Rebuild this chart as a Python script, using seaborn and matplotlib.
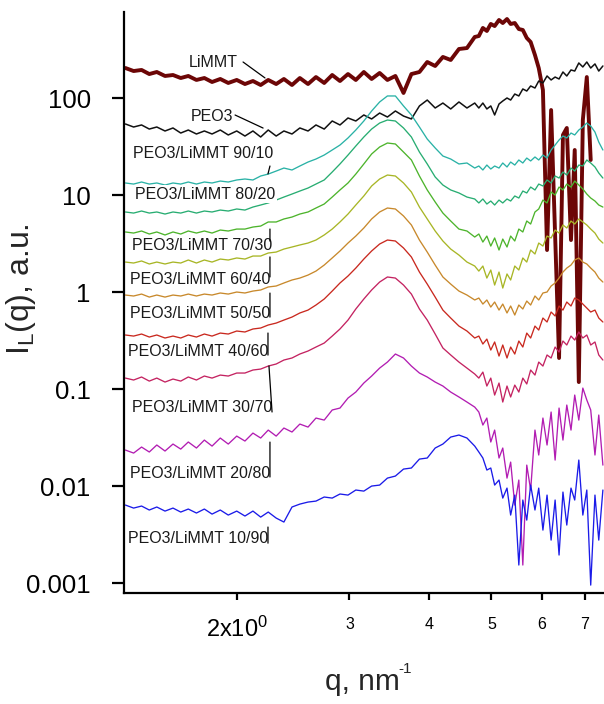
import numpy as np
import pandas as pd
import matplotlib
matplotlib.use("Agg")
import matplotlib.pyplot as plt
from matplotlib.ticker import NullLocator
import seaborn as sns

# ---------------- data ----------------
q = [1.34, 1.38, 1.42, 1.46, 1.50, 1.545, 1.59, 1.635, 1.68, 1.73, 1.78, 1.83, 1.885, 1.94,
     2.00, 2.06, 2.12, 2.18, 2.24, 2.305, 2.37, 2.44, 2.51, 2.585, 2.66, 2.74, 2.82, 2.90,
     2.985, 3.07, 3.16, 3.25, 3.345, 3.44, 3.54, 3.645, 3.75, 3.86, 3.97, 4.085, 4.20, 4.32,
     4.45, 4.58, 4.71,
     4.78, 4.85, 4.92, 4.99, 5.06, 5.14, 5.21, 5.29, 5.36, 5.44, 5.52, 5.60, 5.68, 5.76,
     5.85, 5.93, 6.02, 6.11, 6.20, 6.29, 6.38, 6.47, 6.56, 6.66, 6.75, 6.85, 6.95, 7.05,
     7.15, 7.26, 7.36, 7.47]

log10_I_LiMMT = [2.309, 2.278, 2.289, 2.247, 2.268, 2.227, 2.237, 2.206, 2.227, 2.186, 2.206, 2.165,
                 2.196, 2.155, 2.186, 2.144, 2.175, 2.134, 2.186, 2.144, 2.196, 2.134, 2.206, 2.144,
                 2.216, 2.155, 2.237, 2.175, 2.247, 2.186, 2.268, 2.196, 2.258, 2.186, 2.227, 2.052,
                 2.247, 2.268, 2.371, 2.330, 2.423, 2.392, 2.505, 2.515, 2.629,
                 2.639, 2.722, 2.691, 2.763, 2.742, 2.804, 2.773, 2.814, 2.763, 2.773, 2.711, 2.701,
                 2.619, 2.577, 2.443, 2.309, 2.082, 0.433, 1.876, 0.588, -0.680, 1.619, 1.691, 0.536,
                 1.464, -0.928, 1.773, 2.216, 1.361, np.nan, np.nan, np.nan]

log10_I_PEO3 = [1.732, 1.701, 1.722, 1.680, 1.701, 1.660, 1.691, 1.639, 1.670, 1.629, 1.660, 1.629,
                1.670, 1.619, 1.660, 1.608, 1.660, 1.598, 1.670, 1.608, 1.660, 1.629, 1.691, 1.660,
                1.722, 1.680, 1.763, 1.722, 1.794, 1.763, 1.825, 1.784, 1.845, 1.804, 1.866, 1.814,
                1.784, 1.918, 1.979, 1.897, 1.948, 1.887, 1.959, 1.897, 1.948,
                1.897, 1.948, 1.887, 1.918, 1.825, 1.938, 1.969, 2.000, 1.979, 2.041, 2.021, 2.093,
                2.072, 2.124, 2.103, 2.175, 2.155, 2.227, 2.186, 2.216, 2.196, 2.268, 2.227, 2.289,
                2.278, 2.361, 2.320, 2.371, 2.309, 2.351, 2.278, 2.330]

log10_I_90_10 = [1.124, 1.113, 1.134, 1.113, 1.124, 1.103, 1.124, 1.113, 1.134, 1.113, 1.134, 1.124,
                 1.144, 1.134, 1.155, 1.165, 1.155, 1.196, 1.216, 1.247, 1.278, 1.258, 1.299, 1.340,
                 1.371, 1.412, 1.464, 1.515, 1.588, 1.670, 1.763, 1.866, 1.959, 2.021, 2.021, 1.918,
                 1.825, 1.701, 1.577, 1.485, 1.402, 1.371, 1.320, 1.330, 1.278,
                 1.299, 1.258, 1.309, 1.268, 1.299, 1.278, 1.330, 1.289, 1.340, 1.309, 1.361, 1.330,
                 1.381, 1.351, 1.392, 1.361, 1.412, 1.381, 1.464, 1.515, 1.567, 1.608, 1.588, 1.639,
                 1.619, 1.670, 1.701, 1.742, 1.711, 1.649, 1.546, 1.464]

log10_I_80_20 = [0.825, 0.814, 0.835, 0.814, 0.825, 0.804, 0.825, 0.814, 0.835, 0.814, 0.835, 0.825,
                 0.845, 0.835, 0.856, 0.845, 0.876, 0.897, 0.918, 0.948, 0.979, 1.010, 1.041, 1.072,
                 1.113, 1.155, 1.237, 1.320, 1.412, 1.505, 1.598, 1.680, 1.742, 1.773, 1.763, 1.691,
                 1.598, 1.443, 1.320, 1.186, 1.103, 1.052, 1.021, 0.979, 0.959,
                 0.918, 0.959, 0.907, 0.938, 0.897, 0.948, 0.918, 0.959, 0.938, 0.990, 0.969, 1.041,
                 1.021, 1.082, 1.052, 1.113, 1.093, 1.155, 1.124, 1.196, 1.175, 1.237, 1.206, 1.278,
                 1.247, 1.309, 1.299, 1.361, 1.330, 1.289, 1.227, 1.175]

log10_I_70_30 = [0.619, 0.608, 0.629, 0.598, 0.619, 0.588, 0.619, 0.598, 0.629, 0.608, 0.629, 0.608,
                 0.639, 0.629, 0.649, 0.649, 0.670, 0.680, 0.722, 0.722, 0.753, 0.773, 0.804, 0.825,
                 0.866, 0.907, 0.979, 1.052, 1.124, 1.216, 1.320, 1.423, 1.495, 1.536, 1.526, 1.443,
                 1.361, 1.196, 1.052, 0.928, 0.814, 0.732, 0.649, 0.629, 0.567,
                 0.598, 0.515, 0.577, 0.474, 0.557, 0.433, 0.546, 0.464, 0.577, 0.526, 0.649, 0.619,
                 0.732, 0.701, 0.825, 0.856, 0.948, 0.918, 1.031, 1.000, 1.082, 1.052, 1.113, 1.082,
                 1.144, 1.103, 1.062, 1.010, 0.969, 0.938, 0.897, 0.876]

log10_I_60_40 = [0.309, 0.299, 0.320, 0.289, 0.309, 0.289, 0.309, 0.299, 0.330, 0.299, 0.330, 0.309,
                 0.340, 0.330, 0.351, 0.340, 0.371, 0.371, 0.402, 0.412, 0.443, 0.464, 0.485, 0.505,
                 0.536, 0.588, 0.649, 0.722, 0.804, 0.897, 0.990, 1.093, 1.165, 1.206, 1.196, 1.124,
                 1.031, 0.876, 0.753, 0.629, 0.526, 0.443, 0.381, 0.309, 0.268,
                 0.216, 0.268, 0.144, 0.227, 0.072, 0.206, 0.041, 0.186, 0.124, 0.268, 0.227, 0.351,
                 0.309, 0.433, 0.392, 0.505, 0.474, 0.577, 0.557, 0.639, 0.608, 0.691, 0.660, 0.732,
                 0.701, 0.753, 0.722, 0.691, 0.649, 0.608, 0.546, 0.505]

log10_I_50_50 = [-0.031, -0.041, -0.021, -0.052, -0.031, -0.052, -0.031, -0.041, -0.021, -0.041,
                 -0.021, -0.031, -0.010, -0.021, 0.000, -0.010, 0.010, 0.021, 0.052, 0.062, 0.093,
                 0.124, 0.144, 0.175, 0.216, 0.278, 0.351, 0.423, 0.505, 0.577, 0.660, 0.753, 0.825,
                 0.866, 0.856, 0.784, 0.691, 0.536, 0.412, 0.278, 0.155, 0.082, 0.010, -0.031, -0.082,
                 -0.062, -0.124, -0.082, -0.155, -0.103, -0.186, -0.124, -0.216, -0.144, -0.237,
                 -0.134, -0.175, -0.093, -0.134, -0.041, -0.082, -0.010, 0.000, 0.062, 0.093, 0.144,
                 0.206, 0.247, 0.278, 0.330, 0.351, 0.309, 0.289, 0.247, 0.206, 0.144, 0.103]

log10_I_40_60 = [-0.443, -0.454, -0.433, -0.464, -0.443, -0.474, -0.454, -0.474, -0.443, -0.464,
                 -0.433, -0.454, -0.423, -0.433, -0.402, -0.412, -0.381, -0.371, -0.340, -0.320,
                 -0.289, -0.258, -0.216, -0.186, -0.134, -0.072, 0.010, 0.093, 0.165, 0.247, 0.340,
                 0.423, 0.495, 0.536, 0.526, 0.454, 0.361, 0.206, 0.082, -0.052, -0.186, -0.268,
                 -0.351, -0.402, -0.474,
                 -0.454, -0.536, -0.485, -0.598, -0.515, -0.660, -0.546, -0.680, -0.567, -0.639,
                 -0.505, -0.567, -0.423, -0.474, -0.351, -0.392, -0.268, -0.309, -0.206, -0.247,
                 -0.144, -0.186, -0.103, -0.144, -0.062, -0.082, -0.124, -0.165, -0.206, -0.186,
                 -0.268, -0.309]

log10_I_30_70 = [-0.887, -0.907, -0.876, -0.918, -0.887, -0.928, -0.897, -0.918, -0.876, -0.907,
                 -0.866, -0.887, -0.856, -0.866, -0.835, -0.835, -0.804, -0.794, -0.763, -0.742,
                 -0.701, -0.680, -0.639, -0.608, -0.567, -0.526, -0.454, -0.381, -0.289, -0.175,
                 -0.072, 0.021, 0.103, 0.155, 0.144, 0.072, -0.021, -0.175, -0.289, -0.433, -0.577,
                 -0.649, -0.722, -0.784, -0.845,
                 -0.887, -0.825, -0.969, -0.887, -1.062, -0.938, -1.134, -0.969, -1.082, -0.959,
                 -1.031, -0.887, -0.948, -0.804, -0.856, -0.722, -0.763, -0.649, -0.680, -0.567,
                 -0.619, -0.505, -0.546, -0.454, -0.495, -0.412, -0.474, -0.443, -0.546, -0.515,
                 -0.649, -0.701]

log10_I_20_80 = [-1.629, -1.660, -1.598, -1.649, -1.577, -1.639, -1.567, -1.619, -1.546, -1.608,
                 -1.526, -1.588, -1.505, -1.567, -1.485, -1.536, -1.454, -1.505, -1.423, -1.485,
                 -1.402, -1.443, -1.361, -1.392, -1.299, -1.320, -1.216, -1.196, -1.093, -1.031,
                 -0.938, -0.866, -0.784, -0.722, -0.639, -0.680, -0.763, -0.835, -0.876, -0.928,
                 -0.969, -1.031, -1.082, -1.134, -1.186,
                 -1.237, -1.371, -1.299, -1.546, -1.423, -1.711, -1.608, -1.918, -1.753, -2.196,
                 -1.938, -2.814, -1.784, -2.041, -1.423, -1.680, -1.299, -1.577, -1.237, -1.732,
                 -1.196, -1.526, -1.165, -1.423, -1.062, -1.320, -0.990, -1.113, -1.216, -1.680,
                 -1.268, -1.784]

log10_I_10_90 = [-2.196, -2.227, -2.206, -2.247, -2.216, -2.258, -2.227, -2.268, -2.237, -2.278,
                 -2.237, -2.289, -2.247, -2.299, -2.258, -2.309, -2.258, -2.320, -2.268, -2.330,
                 -2.371, -2.216, -2.186, -2.165, -2.155, -2.113, -2.124, -2.082, -2.093, -2.041,
                 -2.052, -2.000, -1.990, -1.918, -1.897, -1.825, -1.814, -1.722, -1.711, -1.608,
                 -1.567, -1.495, -1.474, -1.505, -1.588,
                 -1.649, -1.711, -1.835, -1.814, -1.990, -1.938, -2.124, -2.021, -2.299, -2.093,
                 -2.814, -2.144, -2.351, -1.990, -2.247, -2.021, -2.454, -2.093, -2.557, -2.144,
                 -2.711, -2.062, -2.402, -2.021, -2.144, -1.732, -2.299, -2.041, -3.021, -2.093,
                 -2.557, -2.041]

samples = ["LiMMT", "PEO3", "PEO3/LiMMT 90/10", "PEO3/LiMMT 80/20", "PEO3/LiMMT 70/30",
           "PEO3/LiMMT 60/40", "PEO3/LiMMT 50/50", "PEO3/LiMMT 40/60", "PEO3/LiMMT 30/70",
           "PEO3/LiMMT 20/80", "PEO3/LiMMT 10/90"]
series = [log10_I_LiMMT, log10_I_PEO3, log10_I_90_10, log10_I_80_20, log10_I_70_30,
          log10_I_60_40, log10_I_50_50, log10_I_40_60, log10_I_30_70, log10_I_20_80,
          log10_I_10_90]
colors = ["#6c0606", "#111111", "#2ab2a6", "#28ad72", "#4db42c", "#a8b626", "#c8892c",
          "#c9291f", "#c42361", "#b21db2", "#1b1be8"]
widths = [2.8, 1.1, 0.95, 0.95, 0.95, 0.95, 0.95, 0.95, 0.95, 0.95, 0.95]

rows = []
for name, vals in zip(samples, series):
    for qq, v in zip(q, vals):
        if not np.isnan(v):
            rows.append((name, qq, 10.0 ** v))
df = pd.DataFrame(rows, columns=["sample", "q", "I"])

# ---------------- figure ----------------
sns.set_style("ticks")
plt.rcParams["font.family"] = ["Liberation Sans", "DejaVu Sans"]
plt.rcParams["mathtext.fontset"] = "custom"
plt.rcParams["mathtext.rm"] = "Liberation Sans"
plt.rcParams["mathtext.it"] = "Liberation Sans:italic"

fig = plt.figure(figsize=(6.04, 7.04), dpi=100)
ax = fig.add_axes([124 / 604, 1 - 593 / 704, 1 - 124 / 604, (593 - 12) / 704])
ax.set_xscale("log")
ax.set_yscale("log")

sns.lineplot(data=df, x="q", y="I", hue="sample", size="sample",
             palette=dict(zip(samples, colors)), sizes=dict(zip(samples, widths)),
             estimator=None, sort=False, legend=False, ax=ax)

ax.set_xlim(1.333, 7.5)
ax.set_ylim(7.9e-4, 770)

for s in ["top", "right"]:
    ax.spines[s].set_visible(False)
for s in ["left", "bottom"]:
    ax.spines[s].set_linewidth(1.6)
    ax.spines[s].set_color("black")

ax.xaxis.set_minor_locator(NullLocator())
ax.yaxis.set_minor_locator(NullLocator())
ax.set_yticks([1e-3, 1e-2, 1e-1, 1, 10, 100])
ax.set_yticklabels(["0.001", "0.01", "0.1", "1", "10", "100"], fontsize=18.5)
ax.set_xticks([2, 3, 4, 5, 6, 7])
ax.set_xticklabels(["2x10$^{0}$", "3", "4", "5", "6", "7"], fontsize=11.5)
ax.get_xticklabels()[0].set_fontsize(17)
ax.tick_params(axis="y", direction="out", length=9, width=1.6, pad=15, colors="black")
ax.tick_params(axis="x", direction="out", length=5, width=1.6, pad=12, colors="black")

# axis titles
ax.set_xlabel("q, nm", fontsize=21.5, va="baseline")
ax.xaxis.set_label_coords((362 - 124) / 480, (593 - 690) / 581)
fig.text(398 / 604, 1 - 673 / 704, "-1", fontsize=11, ha="left", va="baseline")
ax.set_ylabel("I$_\\mathrm{L}$(q), a.u.", fontsize=23, va="center", ha="center")
ax.yaxis.set_label_coords((21 - 124) / 480, (593 - 289) / 581)

# ---------------- curve labels with leader lines ----------------
lab_fs = 11.5
ann = dict(fontsize=lab_fs, ha="center", va="center", color="#1a1a1a")
lead = dict(arrowstyle="-", color="black", lw=0.9, shrinkA=0, shrinkB=0)

ax.text(1.836, 230, "LiMMT", **ann)
ax.annotate("", xy=(2.214, 161), xytext=(2.046, 235), arrowprops=lead)
ax.text(1.830, 65, "PEO3", **ann)
ax.annotate("", xy=(2.199, 49), xytext=(1.988, 66.8), arrowprops=lead)
ax.text(1.771, 26.5, "PEO3/LiMMT 90/10", **ann)
ax.annotate("", xy=(2.238, 16.5), xytext=(2.254, 19.9), arrowprops=lead)
ax.text(1.784, 10.2, "PEO3/LiMMT 80/20",
        bbox=dict(facecolor="white", edgecolor="none", pad=1.0), **ann)
ax.text(1.766, 3.05, "PEO3/LiMMT 70/30", **ann)
ax.annotate("", xy=(2.254, 4.46), xytext=(2.254, 3.35), arrowprops=lead)
ax.text(1.752, 1.36, "PEO3/LiMMT 60/40", **ann)
ax.annotate("", xy=(2.254, 2.30), xytext=(2.254, 1.43), arrowprops=lead)
ax.text(1.752, 0.607, "PEO3/LiMMT 50/50", **ann)
ax.annotate("", xy=(2.254, 0.976), xytext=(2.254, 0.552), arrowprops=lead)
ax.text(1.739, 0.241, "PEO3/LiMMT 40/60", **ann)
ax.annotate("", xy=(2.238, 0.378), xytext=(2.238, 0.224), arrowprops=lead)
ax.text(1.766, 0.0652, "PEO3/LiMMT 30/70", **ann)
ax.annotate("", xy=(2.246, 0.173), xytext=(2.271, 0.058), arrowprops=lead)
ax.text(1.752, 0.0136, "PEO3/LiMMT 20/80", **ann)
ax.annotate("", xy=(2.254, 0.0284), xytext=(2.254, 0.0124), arrowprops=lead)
ax.text(1.739, 0.00291, "PEO3/LiMMT 10/90", **ann)
ax.annotate("", xy=(2.238, 0.00378), xytext=(2.238, 0.00258), arrowprops=lead)

fig.savefig("out.png", dpi=100)
